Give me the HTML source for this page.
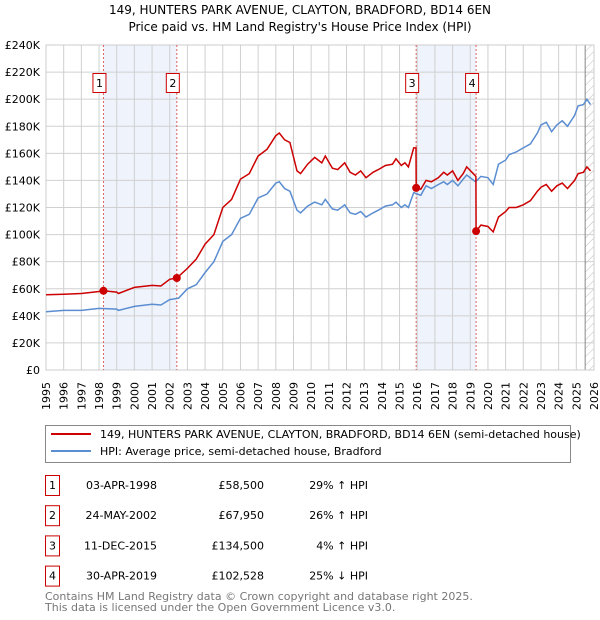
<!DOCTYPE html>
<html><head><meta charset="utf-8"><style>
body{margin:0;background:#fff;font-family:"DejaVu Sans","Liberation Sans",sans-serif;}
#wrap{position:relative;width:600px;height:620px;overflow:hidden;}
svg text{font-family:"DejaVu Sans","Liberation Sans",sans-serif;}
</style></head><body>
<div id="wrap">
<svg id="svg" width="600" height="620">
<text x="300" y="14" text-anchor="middle" font-size="12" fill="#000">149, HUNTERS PARK AVENUE, CLAYTON, BRADFORD, BD14 6EN</text>
<text x="300" y="31" text-anchor="middle" font-size="12" fill="#000">Price paid vs. HM Land Registry's House Price Index (HPI)</text>
<g id="plot"></g>
<g>
<rect x="45.5" y="425.5" width="525" height="37" fill="#fff" stroke="#888"/>
<line x1="51" y1="434" x2="91" y2="434" stroke="#cc0000" stroke-width="2"/>
<text x="100" y="438" font-size="11">149, HUNTERS PARK AVENUE, CLAYTON, BRADFORD, BD14 6EN (semi-detached house)</text>
<line x1="51" y1="451" x2="91" y2="451" stroke="#5b8dd1" stroke-width="2"/>
<text x="100" y="455" font-size="11">HPI: Average price, semi-detached house, Bradford</text>
</g>
<g id="table"></g>
<text x="45" y="600" font-size="11" fill="#777">Contains HM Land Registry data © Crown copyright and database right 2025.</text>
<text x="45" y="611" font-size="11" fill="#777">This data is licensed under the Open Government Licence v3.0.</text>
</svg>
</div>
<script>
const hpiYears=[1995,1996,1997,1998,1999,1999.1,2000,2001,2001.5,2002,2002.5,2003,2003.5,2004,2004.5,2005,2005.5,2006,2006.5,2007,2007.5,2008,2008.2,2008.5,2008.8,2009.2,2009.4,2009.8,2010.2,2010.6,2010.8,2011.2,2011.5,2011.9,2012.2,2012.5,2012.8,2013.1,2013.5,2013.8,2014.2,2014.6,2014.8,2015.1,2015.3,2015.5,2015.8,2016.2,2016.5,2016.8,2017.2,2017.5,2017.7,2018.0,2018.3,2018.6,2018.8,2019.1,2019.3,2019.6,2020.0,2020.3,2020.6,2021.0,2021.2,2021.6,2022.0,2022.4,2022.8,2023.0,2023.3,2023.6,2023.9,2024.2,2024.5,2024.9,2025.1,2025.4,2025.6,2025.8];
const hpiValues=[43,44,44,45.5,45,44,47,48.5,48,52,53,60,63,72,80,95,100,112,115,127,130,138,139,134,132,118,116,121,124,122,126,119,118,122,116,115,117,113,116,118,121,122,124,120,122,120,131,129,136,134,137,139,137,140,136,141,144,141,139,143,142,137,152,155,159,161,164,167,175,181,183,176,181,184,180,188,195,196,200,196];
const priceYears=[1995,1996,1997,1998,1998.25,1999,1999.1,2000,2001,2001.5,2002,2002.4,2003,2003.5,2004,2004.5,2005,2005.5,2006,2006.5,2007,2007.5,2008,2008.2,2008.5,2008.8,2009.2,2009.4,2009.8,2010.2,2010.6,2010.8,2011.2,2011.5,2011.9,2012.2,2012.5,2012.8,2013.1,2013.5,2013.8,2014.2,2014.6,2014.8,2015.1,2015.3,2015.5,2015.8,2015.93,2015.94,2016.2,2016.5,2016.8,2017.2,2017.5,2017.7,2018.0,2018.3,2018.6,2018.8,2019.1,2019.32,2019.33,2019.6,2020.0,2020.3,2020.6,2021.0,2021.2,2021.6,2022.0,2022.4,2022.8,2023.0,2023.3,2023.6,2023.9,2024.2,2024.5,2024.9,2025.1,2025.4,2025.6,2025.8];
const priceValues=[55.5,56,56.5,58,58.5,57.5,56.5,61,62.5,62,67,67.95,75,82,93,100,120,126,141,145,158,163,173,175,170,168,147,145,152,157,153,158,149,148,153,146,144,147,142,146,148,151,152,156,151,153,150,164,164,134.5,133.5,140,139,142,146,144,147,140,145,150,146,143,102.5,107,106,102,113,117,120,120,122,125,132,135,137,132,136,138,134,140,145,146,150,147];
const saleLabels=["1","2","3","4"];
const saleYears=[1998.25,2002.4,2015.94,2019.33];
const saleValues=[58.5,67.95,134.5,102.528];
const saleDates=["03-APR-1998","24-MAY-2002","11-DEC-2015","30-APR-2019"];
const salePrices=["£58,500","£67,950","£134,500","£102,528"];
const saleHpi=["29% ↑ HPI","26% ↑ HPI","4% ↑ HPI","25% ↓ HPI"];
const yTicks=[0,20,40,60,80,100,120,140,160,180,200,220,240];
const xTicks=[1995,1996,1997,1998,1999,2000,2001,2002,2003,2004,2005,2006,2007,2008,2009,2010,2011,2012,2013,2014,2015,2016,2017,2018,2019,2020,2021,2022,2023,2024,2025,2026];

const X0=46,X1=594,Y0=370,Y1=45;
const xs=y=>X0+(y-1995)/(2026-1995)*(X1-X0);
const ys=v=>Y0-v/240*(Y0-Y1);
const NS="http://www.w3.org/2000/svg";
const plot=document.getElementById('plot');
function mk(tag,attrs,parent){const e=document.createElementNS(NS,tag);for(const k in attrs)e.setAttribute(k,attrs[k]);(parent||plot).appendChild(e);return e;}
for(let i=0;i<2;i++){const a=saleYears[i*2],b=saleYears[i*2+1];
const r=mk('rect',{x:xs(a),y:Y1,width:xs(b)-xs(a),height:Y0-Y1,fill:'#eef3fc'});

}
const defs=mk('defs',{});
const pat=mk('pattern',{id:'hatch',width:6,height:6,patternUnits:'userSpaceOnUse',patternTransform:'rotate(45)'},defs);
mk('line',{x1:0,y1:0,x2:0,y2:6,stroke:'#bbb','stroke-width':1},pat);
const hr=mk('rect',{x:xs(2025.5),y:Y1,width:X1-xs(2025.5),height:Y0-Y1,fill:'url(#hatch)'});


xTicks.forEach(t=>{const l=mk('line',{x1:xs(t),x2:xs(t),y1:Y1,y2:Y0,stroke:'#d0d0d0'});


const tx=mk('text',{x:0,y:0,'text-anchor':'end','font-size':11,transform:'translate('+(xs(t)+4).toFixed(1)+',382) rotate(-90)'});tx.textContent=t;

});
yTicks.forEach(t=>{const l=mk('line',{x1:X0,x2:X1,y1:ys(t),y2:ys(t),stroke:'#d0d0d0'});


const tx=mk('text',{x:40,y:ys(t)+4,'text-anchor':'end','font-size':11});tx.textContent='£'+t+(t?'K':'');

});
mk('line',{x1:xs(2025.5),x2:xs(2025.5),y1:Y1,y2:Y0,stroke:'#888'});
mk('rect',{x:X0,y:Y1,width:X1-X0,height:Y0-Y1,fill:'none',stroke:'#ccc'});
saleYears.forEach((y,i)=>{const l=mk('line',{x1:xs(y),x2:xs(y),y1:Y1,y2:Y0,stroke:'#e06060','stroke-dasharray':'2,2'});

});
function path(xa,va,color,name){let d='';xa.forEach((x,i)=>{d+=(i?'L':'M')+xs(x).toFixed(1)+','+ys(va[i]).toFixed(1);});
const p=mk('path',{d:d,fill:'none',stroke:color,'stroke-width':1.5});

}
path(hpiYears,hpiValues,'#5b8dd1','hpi-line');
path(priceYears,priceValues,'#cc0000','price-paid-line');
saleYears.forEach((y,i)=>{const c=mk('circle',{cx:xs(y),cy:ys(saleValues[i]),r:4,fill:'#cc0000'});


const bx=xs(y)-11;
const b=mk('rect',{x:bx+0.5,y:73.5,width:13,height:19,fill:'#fff',stroke:'#cc0000'});


const t=mk('text',{x:bx+7,y:87,'text-anchor':'middle','font-size':11});t.textContent=saleLabels[i];

});
const tb=document.getElementById('table');
saleLabels.forEach((s,i)=>{const yy=475+i*30.2;
const b=mk('rect',{x:45.5,y:yy+0.5,width:14,height:20,fill:'#fff',stroke:'#cc0000'},tb);


const cells=[[52.5,s,'middle'],[157,saleDates[i],'end'],[264,salePrices[i],'end'],[368,saleHpi[i],'end']];
cells.forEach(c=>{const t=mk('text',{x:c[0],y:yy+14,'text-anchor':c[2],'font-size':11},tb);t.textContent=c[1];

});});
</script>
</body></html>
